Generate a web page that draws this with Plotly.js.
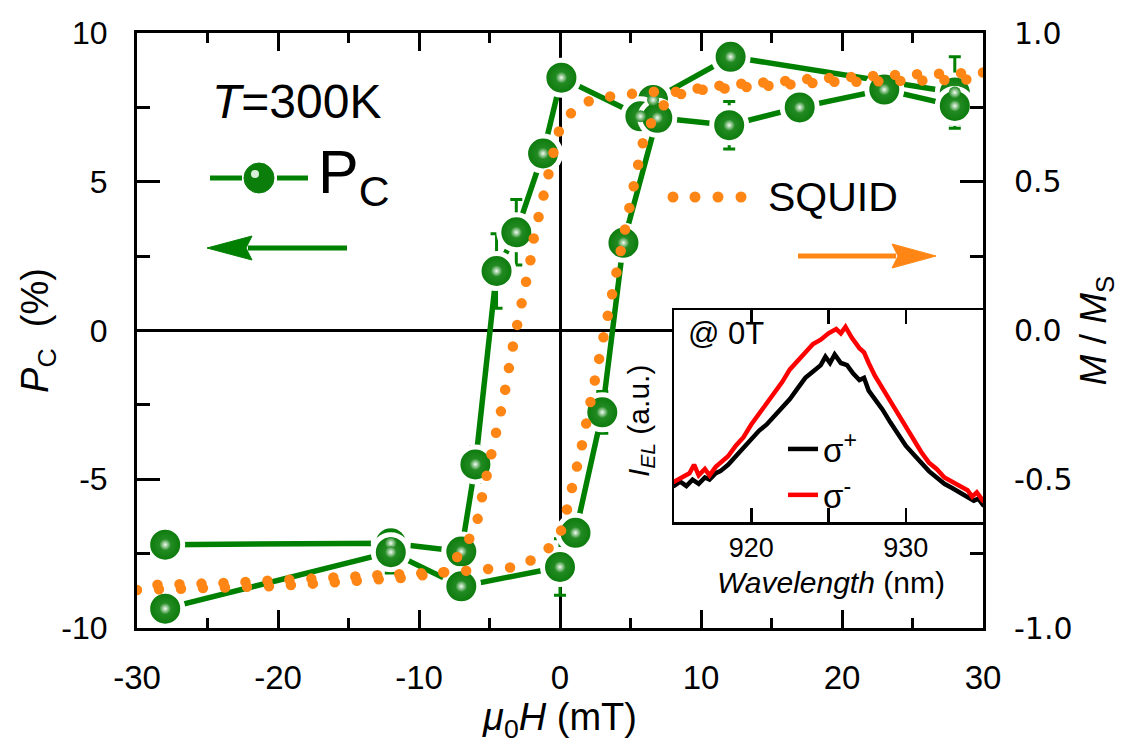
<!DOCTYPE html>
<html>
<head>
<meta charset="utf-8">
<script src="https://cdn.plot.ly/plotly-3.0.1.min.js"></script>
<style>
html,body{margin:0;padding:0;background:#fff;}
#chart{width:1144px;height:747px;}
.scatterlayer .js-line{stroke-linecap:round;}
</style>
</head>
<body>
<div id="chart"></div>
<script>
// ---------- Data ----------
// P_C, field sweep from +28 mT down to -28 mT
const pcDescH   = [28, 12.1, 6.6, 5.7, 0.1, -1.2, -3.1, -4.5, -6.0, -7.0, -12.0, -28.0];
const pcDescP   = [8.0, 9.2, 7.75, 7.2, 8.5, 5.95, 3.3, 2.0, -4.5, -7.43, -7.15, -7.2];
const pcDescErr = [1.2, 0.2, 0.5, 0.2, 0.2, 0.2, 1.1, 1.25, 0.6, 0.3, 0.5, 0.3];
// P_C, field sweep from -28 mT up to +28 mT
const pcAscH    = [-28.0, -12.0, -7.0, 0.0, 1.1, 3.0, 4.5, 6.9, 12.0, 17.0, 23.0, 28.0];
const pcAscP    = [-9.35, -7.45, -8.6, -7.95, -6.8, -2.75, 2.95, 7.15, 6.9, 7.5, 8.1, 7.55];
const pcAscErr  = [0.2, 0.7, 0.2, 0.95, 0.3, 0.7, 0.3, 0.3, 0.8, 0.2, 0.6, 0.6];

// SQUID M/Ms, descending branch
const squidDescH = [30, 28.4, 26.7, 25.1, 23.6, 21.9, 20.4, 18.8, 17.1, 15.4, 13.9, 12.3, 10.7, 9.0, 8.0,
  6.5, 5.0, 3.2, 1.6, 0.5, -0.14, -0.5, -0.85, -1.2, -1.5, -1.85, -2.06, -2.4, -2.7, -3.0,
  -3.27, -3.55, -3.77, -4.05, -4.4, -4.76, -5.05, -5.4, -5.7, -5.97, -6.8, -7.6, -8.0, -9.6, -14.4,
  -19.2, -24.0, -28.9, -30];
const squidDescM = [0.867, 0.867, 0.865, 0.861, 0.859, 0.855, 0.853, 0.847, 0.844, 0.836, 0.834, 0.828, 0.820, 0.811, 0.801,
  0.803, 0.797, 0.785, 0.765, 0.718, 0.664, 0.593, 0.523, 0.455, 0.385, 0.314, 0.244, 0.176, 0.106, 0.035,
  -0.035, -0.106, -0.176, -0.244, -0.314, -0.385, -0.455, -0.526, -0.597, -0.667, -0.728, -0.782, -0.812, -0.815, -0.828,
  -0.839, -0.849, -0.855, -0.858];
// SQUID M/Ms, ascending branch
const squidAscH = [-30, -25.0, -20.1, -15.3, -10.4, -8.9, -6.25, -4.76, -3.06, -1.56,
  -0.36, 0.2, 0.57, 0.92, 1.2, 1.56, 1.85, 2.13, 2.42, 2.7,
  3.06, 3.34, 3.62, 3.9, 4.2, 4.48, 4.76, 5.1, 5.4, 5.7,
  6.04, 6.9, 7.8, 9.7, 11.4, 12.9, 14.6, 16.1, 17.8, 19.4,
  21.1, 22.6, 24.3, 25.8, 27.5, 29.1, 30];
const squidAscM = [-0.872, -0.866, -0.859, -0.844, -0.829, -0.815, -0.805, -0.798, -0.795, -0.761,
  -0.714, -0.661, -0.594, -0.523, -0.452, -0.385, -0.314, -0.244, -0.176, -0.105,
  -0.035, 0.035, 0.106, 0.176, 0.244, 0.314, 0.385, 0.455, 0.526, 0.597,
  0.667, 0.728, 0.785, 0.808, 0.814, 0.820, 0.820, 0.828, 0.831, 0.836,
  0.836, 0.836, 0.839, 0.844, 0.844, 0.844, 0.846];

// Inset: EL spectra at 0 T
const wlPlus = [915.0, 915.4, 915.8, 916.2, 916.6, 917.0, 917.3, 917.7, 918.0, 918.5, 919.0, 919.5, 920.0, 920.5,
  921.0, 921.5, 922.0, 922.5, 923.0, 923.5, 924.0, 924.5, 924.8, 925.1, 925.4, 925.8, 926.2, 926.6,
  927.0, 927.3, 927.6, 928.0, 928.5, 929.0, 929.5, 930.0, 930.5, 931.0, 931.5, 932.0, 932.5, 933.0,
  933.5, 934.0, 934.4, 934.7, 935.0];
const elPlus = [0.17, 0.19, 0.17, 0.20, 0.18, 0.21, 0.20, 0.23, 0.24, 0.27, 0.31, 0.35, 0.39, 0.43,
  0.46, 0.50, 0.54, 0.58, 0.63, 0.68, 0.71, 0.74, 0.78, 0.75, 0.79, 0.75, 0.74, 0.70,
  0.67, 0.68, 0.62, 0.58, 0.53, 0.47, 0.41, 0.36, 0.32, 0.28, 0.24, 0.21, 0.18, 0.16,
  0.14, 0.12, 0.10, 0.11, 0.08];
const wlMinus = [915.0, 915.5, 916.0, 916.3, 916.6, 917.0, 917.3, 917.7, 918.0, 918.5, 919.0, 919.5, 920.0, 920.5,
  921.0, 921.5, 922.0, 922.5, 923.0, 923.5, 924.0, 924.5, 925.0, 925.5, 925.8, 926.1, 926.5, 927.0,
  927.3, 927.6, 928.0, 928.5, 929.0, 929.5, 930.0, 930.5, 931.0, 931.5, 932.0, 932.5, 933.0, 933.5,
  934.0, 934.3, 934.6, 935.0];
const elMinus = [0.19, 0.21, 0.23, 0.27, 0.22, 0.25, 0.22, 0.26, 0.28, 0.31, 0.36, 0.40, 0.46, 0.51,
  0.56, 0.61, 0.66, 0.72, 0.76, 0.80, 0.84, 0.86, 0.89, 0.91, 0.89, 0.92, 0.87, 0.82,
  0.80, 0.75, 0.69, 0.63, 0.57, 0.50, 0.44, 0.38, 0.33, 0.28, 0.25, 0.21, 0.19, 0.17,
  0.15, 0.12, 0.14, 0.10];

const xTicks = [-30, -20, -10, 0, 10, 20, 30];
const xTickText = ['-30', '-20', '-10', '0', '10', '20', '30'];
const yTicks = [-10, -5, 0, 5, 10];
const yTickText = ['-10', '-5', '0', '5', '10'];
const y2Ticks = [-1.0, -0.5, 0.0, 0.5, 1.0];
const y2TickText = ['-1.0', '-0.5', '0.0', '0.5', '1.0'];
const insetTicks = [920, 930];

// ---------- Styling ----------
const GREEN = '#008000';
const ORANGE = '#ff8614';
const FONT = 'Liberation Sans, Arial, sans-serif';
const M = {l: 137, r: 161, t: 33, b: 119};
const PW = 1144 - M.l - M.r, PH = 747 - M.t - M.b;
const px = x => (x - M.l) / PW;          // pixel -> paper x
const py = y => (747 - M.b - y) / PH;     // pixel -> paper y

const pcMarker = {size: 35, color: '#087808', line: {color: '#ffffff', width: 5},
  gradient: {type: 'radial', color: '#2f932f'}};
const pcHighlight = {size: 12, color: '#1a861a', line: {width: 0},
  gradient: {type: 'radial', color: '#f4fbf4'}};
const pcErrStyle = arr => ({type: 'data', array: arr, visible: true, color: GREEN, thickness: 3, width: 6});

const traces = [
  {x: pcDescH, y: pcDescP, error_y: pcErrStyle(pcDescErr), mode: 'lines+markers', name: 'P_C down',
   line: {color: GREEN, width: 5.5}, marker: pcMarker, xaxis: 'x', yaxis: 'y', showlegend: false},
  {x: pcAscH, y: pcAscP, error_y: pcErrStyle(pcAscErr), mode: 'lines+markers', name: 'P_C up',
   line: {color: GREEN, width: 5.5}, marker: pcMarker, xaxis: 'x', yaxis: 'y', showlegend: false},
  {x: pcDescH, y: pcDescP, mode: 'markers', marker: pcHighlight, hoverinfo: 'skip',
   xaxis: 'x', yaxis: 'y', showlegend: false},
  {x: pcAscH, y: pcAscP, mode: 'markers', marker: pcHighlight, hoverinfo: 'skip',
   xaxis: 'x', yaxis: 'y', showlegend: false},
  {x: squidDescH, y: squidDescM, mode: 'lines', name: 'SQUID down',
   line: {color: ORANGE, width: 10.5, dash: '0px,22px'}, xaxis: 'x', yaxis: 'y2', showlegend: false},
  {x: squidAscH, y: squidAscM, mode: 'lines', name: 'SQUID up',
   line: {color: ORANGE, width: 10.5, dash: '0px,22px'}, xaxis: 'x', yaxis: 'y2', showlegend: false},
  {x: wlPlus, y: elPlus, mode: 'lines', name: 'σ<sup>+</sup>',
   line: {color: '#000000', width: 4.5}, xaxis: 'x3', yaxis: 'y3', showlegend: true},
  {x: wlMinus, y: elMinus, mode: 'lines', name: 'σ<sup>-</sup>',
   line: {color: '#ff0000', width: 4.5}, xaxis: 'x3', yaxis: 'y3', showlegend: true}
];

const insetL = 674, insetR = 983, insetT = 310, insetB = 522;

const shapes = [
  // P_C legend sample
  {type: 'line', xref: 'paper', yref: 'paper', x0: px(210), x1: px(242), y0: py(178), y1: py(178),
   line: {color: GREEN, width: 5}},
  {type: 'line', xref: 'paper', yref: 'paper', x0: px(277), x1: px(308), y0: py(178), y1: py(178),
   line: {color: GREEN, width: 5}},
  {type: 'circle', xref: 'paper', yref: 'paper', x0: px(244), x1: px(274), y0: py(193), y1: py(163),
   fillcolor: '#0b7d0b', line: {color: '#0b7d0b', width: 1}},
  {type: 'circle', xref: 'paper', yref: 'paper', x0: px(251), x1: px(259), y0: py(178), y1: py(170),
   fillcolor: '#d8eed8', line: {width: 0}},
  // green arrow (left axis)
  {type: 'line', xref: 'paper', yref: 'paper', x0: px(248), x1: px(347), y0: py(248), y1: py(248),
   line: {color: GREEN, width: 5}},
  {type: 'path', xref: 'paper', yref: 'paper',
   path: `M${px(207)},${py(248)} L${px(252)},${py(236)} L${px(246)},${py(248)} L${px(252)},${py(260)} Z`,
   fillcolor: GREEN, line: {color: GREEN, width: 1}},
  // orange arrow (right axis)
  {type: 'line', xref: 'paper', yref: 'paper', x0: px(798), x1: px(896), y0: py(256), y1: py(256),
   line: {color: ORANGE, width: 5}},
  {type: 'path', xref: 'paper', yref: 'paper',
   path: `M${px(936)},${py(256)} L${px(892)},${py(244)} L${px(898)},${py(256)} L${px(892)},${py(268)} Z`,
   fillcolor: ORANGE, line: {color: ORANGE, width: 1}}
];
// SQUID legend dots
[673, 695, 718, 741].forEach(cx => shapes.push({type: 'circle', xref: 'paper', yref: 'paper',
  x0: px(cx - 5.5), x1: px(cx + 5.5), y0: py(197 + 5.5), y1: py(197 - 5.5),
  fillcolor: ORANGE, line: {width: 0}}));

const annotations = [
  {xref: 'paper', yref: 'paper', x: px(210), y: py(101), xanchor: 'left', yanchor: 'middle',
   text: '<i>T</i>=300K', showarrow: false, font: {family: FONT, size: 48, color: '#000'}},
  {xref: 'paper', yref: 'paper', x: px(316), y: py(176), xanchor: 'left', yanchor: 'middle',
   text: 'P<sub>C</sub>', showarrow: false, font: {family: FONT, size: 61, color: '#000'}},
  {xref: 'paper', yref: 'paper', x: px(766), y: py(197), xanchor: 'left', yanchor: 'middle',
   text: 'SQUID', showarrow: false, font: {family: FONT, size: 41, color: '#000'}},
  {xref: 'paper', yref: 'paper', x: px(686), y: py(333), xanchor: 'left', yanchor: 'middle',
   text: '@ 0T', showarrow: false, font: {family: FONT, size: 31, color: '#000'}},
  {xref: 'paper', yref: 'paper', x: px(640), y: py(421), xanchor: 'center', yanchor: 'middle', textangle: -90,
   text: '<i>I</i><sub><i>EL</i></sub> (a.u.)', showarrow: false, font: {family: FONT, size: 30, color: '#000'}},
  {xref: 'paper', yref: 'paper', x: px(831), y: py(582), xanchor: 'center', yanchor: 'middle',
   text: '<i>Wavelength</i> (nm)', showarrow: false, font: {family: FONT, size: 30, color: '#000'}}
];

const axisCommon = {showgrid: false, showline: true, linecolor: '#000', linewidth: 3, mirror: 'ticks',
  ticks: 'inside', tickcolor: '#000', tickwidth: 3};

const layout = {
  width: 1144, height: 747,
  margin: M,
  paper_bgcolor: '#ffffff', plot_bgcolor: '#ffffff',
  font: {family: FONT, color: '#000'},
  showlegend: true,
  legend: {x: px(783), y: py(421), xanchor: 'left', yanchor: 'top', bgcolor: 'rgba(0,0,0,0)',
    font: {family: FONT, size: 33, color: '#000'}, borderwidth: 0, tracegroupgap: 0},
  xaxis: Object.assign({}, axisCommon, {
    range: [-30, 30], domain: [0, 1], anchor: 'y', tickmode: 'array', tickvals: xTicks, ticktext: xTickText,
    ticklen: 18, ticklabelstandoff: 18,
    minor: {dtick: 5, tick0: 0, ticks: 'inside', ticklen: 10, tickwidth: 3, tickcolor: '#000'},
    zeroline: true, zerolinecolor: '#000', zerolinewidth: 3,
    tickfont: {family: FONT, size: 33},
    title: {text: '<i>μ</i><sub>0</sub><i>H</i> (mT)', font: {family: FONT, size: 38}, standoff: 8}
  }),
  yaxis: Object.assign({}, axisCommon, {
    range: [-10, 10], domain: [0, 1], anchor: 'x', tickmode: 'array', tickvals: yTicks, ticktext: yTickText,
    ticklen: 23, ticklabelstandoff: 20,
    minor: {dtick: 2.5, tick0: 0, ticks: 'inside', ticklen: 13, tickwidth: 3, tickcolor: '#000'},
    zeroline: true, zerolinecolor: '#000', zerolinewidth: 3,
    tickfont: {family: FONT, size: 32},
    title: {text: '<i>P</i><sub>C</sub>&nbsp; (%)', font: {family: FONT, size: 38}, standoff: 2}
  }),
  yaxis2: {
    range: [-1, 1], overlaying: 'y', side: 'right', anchor: 'x', showgrid: false, zeroline: false,
    showline: false, ticks: '', tickmode: 'array', tickvals: y2Ticks, ticktext: y2TickText,
    ticklabelstandoff: 30,
    tickfont: {family: 'DejaVu Sans, Liberation Sans, sans-serif', size: 30},
    title: {text: '<i>M</i> / <i>M</i><sub>S</sub>', font: {family: FONT, size: 37}, standoff: 8}
  },
  xaxis3: {
    range: [915, 935], domain: [px(insetL), px(insetR)], anchor: 'y3', showgrid: false, zeroline: false,
    showline: true, linecolor: '#000', linewidth: 2.5, mirror: 'ticks',
    ticks: 'inside', ticklen: 14, tickwidth: 2.5, tickcolor: '#000', tickmode: 'array', tickvals: insetTicks,
    minor: {dtick: 5, tick0: 915, ticks: 'inside', ticklen: 14, tickwidth: 2.5, tickcolor: '#000'},
    ticklabelstandoff: 0,
    tickfont: {family: FONT, size: 27}
  },
  yaxis3: {
    range: [0, 1], domain: [py(insetB), py(insetT)], anchor: 'x3', showgrid: false, zeroline: false,
    showline: true, linecolor: '#000', linewidth: 2.5, mirror: true, ticks: '', showticklabels: false
  },
  shapes: shapes,
  annotations: annotations
};

Plotly.newPlot('chart', traces, layout, {displayModeBar: false, staticPlot: true});
</script>
</body>
</html>
